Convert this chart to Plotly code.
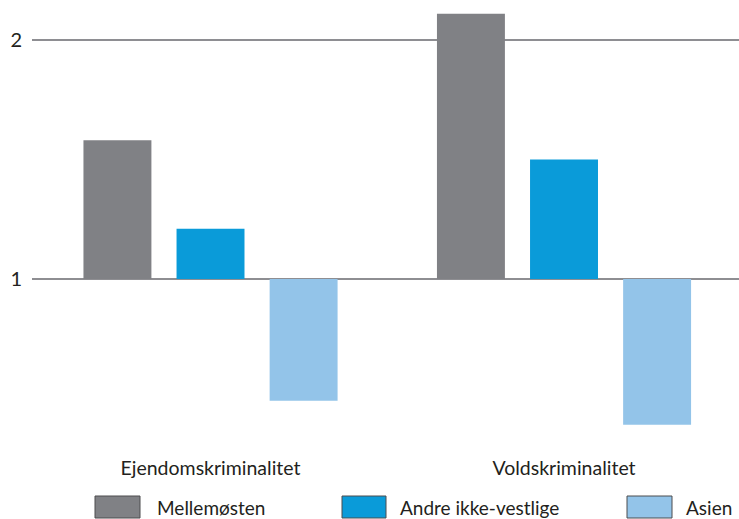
import plotly.graph_objects as go

categories = ["Ejendomskriminalitet", "Voldskriminalitet"]
series_names = ["Mellemøsten", "Andre ikke-vestlige", "Asien"]
mellemosten = [1.58, 2.11]
andre_ikke_vestlige = [1.21, 1.50]
asien = [0.49, 0.39]
y_tick_vals = [1, 2]
y_tick_text = ["1", "2"]

series_values = [mellemosten, andre_ikke_vestlige, asien]
colors = ["#808185", "#0a9bd9", "#93c4e9"]
BASE = 1

W, H = 739, 519
ML, MR, MT, MB = 32, 0, 10, 89
PW, PH = W - ML - MR, H - MT - MB
FONT = "Lato"

fig = go.Figure()
for name, vals, col in zip(series_names, series_values, colors):
    fig.add_trace(go.Bar(
        x=categories,
        y=[v - BASE for v in vals],
        base=BASE,
        name=name,
        marker=dict(color=col, line=dict(width=0)),
        showlegend=False,
    ))

def px_x(p):
    return (p - ML) / PW

def px_y(p):
    return (H - MB - p) / PH

# manual legend (swatch + label)
legend_pos = [(95, 140, 155), (342, 386, 398), (627, 672, 684)]
shapes = []
annotations = []
for (x0, x1, tx), name, col in zip(legend_pos, series_names, colors):
    shapes.append(dict(type="rect", xref="paper", yref="paper",
                       x0=px_x(x0), x1=px_x(x1), y0=px_y(518), y1=px_y(496),
                       fillcolor=col, line=dict(color="#4d4d4f", width=1)))
    annotations.append(dict(text=name, xref="paper", yref="paper",
                            x=px_x(tx), y=px_y(507), xanchor="left", yanchor="middle",
                            showarrow=False, font=dict(family=FONT, size=19, color="#231f20")))

fig.update_layout(
    width=W, height=H,
    margin=dict(l=ML, r=MR, t=MT, b=MB),
    paper_bgcolor="white", plot_bgcolor="white",
    barmode="group", bargap=0.21, bargroupgap=0.27,
    font=dict(family=FONT, color="#231f20"),
    shapes=shapes, annotations=annotations,
    xaxis=dict(type="category", range=[-0.505, 1.495], showgrid=False, zeroline=False,
               showline=False, ticks="", tickfont=dict(family=FONT, size=19.5, color="#231f20"),
               ticklabelstandoff=24),
    yaxis=dict(range=[0.368, 2.1255], tickvals=y_tick_vals, ticktext=y_tick_text,
               showgrid=True, gridcolor="#8e8e92", gridwidth=2, zeroline=False,
               showline=False, ticks="", tickfont=dict(family=FONT, size=20, color="#231f20"),
               ticklabelstandoff=9),
)

fig.write_html("out.html", config={"displayModeBar": False},
               post_script="document.body.style.margin='0';")
